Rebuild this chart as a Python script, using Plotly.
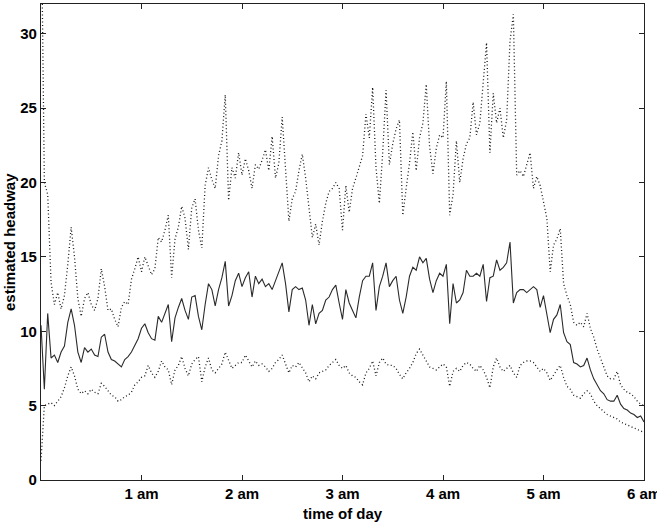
import plotly.graph_objects as go

# time samples (minutes after midnight), every 2 minutes from 0:00 to 6:00
minutes = list(range(0, 361, 2))
hours = [m / 60 for m in minutes]

# middle (solid) estimate of headway
headway_mid = [
    10.4, 6.1, 11.2, 8.2, 8.4, 7.9, 8.6, 9.0, 10.6, 11.5,
    10.4, 8.6, 7.9, 8.9, 8.6, 8.8, 8.4, 8.3, 9.6, 9.8,
    8.6, 8.1, 8.0, 7.8, 7.6, 8.1, 8.3, 8.6, 9.0, 9.5,
    10.2, 10.5, 9.9, 9.5, 9.4, 11.0, 10.6, 11.2, 11.8, 9.3,
    10.9, 11.6, 12.2, 11.4, 10.8, 12.3, 12.4, 11.0, 10.1, 11.8,
    13.2, 12.8, 11.7, 12.8, 13.6, 14.7, 11.7, 12.4, 13.4, 13.9,
    13.0, 13.6, 14.0, 12.3, 13.7, 13.2, 13.5, 13.0, 13.2, 12.8,
    13.4, 14.1, 14.6, 13.2, 11.3, 12.8, 13.0, 12.8, 12.9, 12.1,
    10.4, 11.8, 10.5, 11.2, 11.4, 12.1, 12.3, 12.8, 13.1, 11.9,
    10.8, 12.8, 11.9, 11.4, 10.9, 12.3, 13.4, 13.7, 13.7, 14.6,
    11.4, 13.0, 13.7, 14.6, 13.0, 13.4, 13.7, 12.1, 11.2, 12.3,
    13.7, 14.3, 14.1, 15.0, 14.6, 14.9, 13.5, 12.6, 13.4, 13.9,
    13.7, 14.5, 10.5, 13.2, 11.9, 12.1, 12.6, 14.1, 13.7, 13.7,
    13.9, 13.7, 14.5, 12.0, 13.6, 13.7, 14.8, 14.1, 14.3, 14.6,
    16.0, 11.9, 12.6, 12.8, 12.8, 12.6, 12.8, 13.0, 12.8, 11.6,
    12.4, 11.2, 9.9, 10.8, 11.1, 11.8, 9.9, 9.3, 9.1, 7.9,
    7.8, 7.6, 7.7, 8.2, 7.4, 6.8, 6.4, 6.0, 5.8, 5.4,
    5.3, 5.3, 5.7, 5.1, 4.8, 4.7, 4.5, 4.4, 4.2, 4.3,
    3.9,
]

# upper (dotted) bound
headway_upper = [
    40.0, 20.0, 19.2, 13.3, 11.8, 12.6, 11.5, 12.4, 14.5, 17.0,
    15.0, 12.2, 11.0, 12.2, 12.6, 11.8, 11.4, 12.2, 14.2, 13.0,
    11.4, 11.5, 10.8, 10.3, 11.6, 12.0, 11.8, 13.5, 14.2, 15.0,
    14.0, 15.0, 14.4, 13.8, 14.2, 16.3, 16.0, 16.8, 17.8, 13.6,
    16.2, 17.0, 18.4, 17.6, 15.5, 18.3, 18.9, 16.8, 15.6, 19.8,
    21.0, 20.2, 19.6, 21.8, 22.8, 25.9, 18.8, 21.0, 20.3, 22.0,
    20.5, 21.6, 20.8, 19.6, 21.2, 20.9, 21.5, 22.2, 20.8, 23.1,
    20.3, 21.3, 24.4, 20.6, 17.4, 18.9, 19.4, 20.8, 21.9, 20.3,
    18.2, 16.3, 17.2, 15.8, 17.4, 18.6, 19.4, 19.6, 20.0, 19.6,
    16.8, 19.8, 18.0, 19.6, 20.3, 21.0, 21.8, 24.6, 23.0, 26.4,
    21.0, 18.6, 22.0, 26.2, 21.2, 22.6, 23.6, 24.2, 17.8, 19.6,
    21.3, 23.4, 20.8, 23.0, 24.0, 26.6, 22.4, 20.6, 22.3, 23.2,
    23.0, 26.8, 17.8, 19.2, 22.8, 20.0, 21.6, 22.6, 23.0, 25.4,
    23.2, 24.0, 27.0, 29.4, 22.0, 26.0, 24.0, 25.0, 23.0, 24.2,
    29.5, 31.3, 20.5, 20.8, 20.4, 21.2, 22.0, 19.6, 20.4, 19.8,
    18.6, 17.6, 14.0, 15.8, 16.2, 16.9, 13.2, 12.4, 11.8, 10.6,
    10.4, 10.6, 10.3, 11.2, 10.2, 9.6, 8.8, 8.2, 7.6, 7.0,
    6.8, 6.8, 7.3, 6.4, 6.1, 5.9, 5.8, 5.6, 5.3, 5.1,
    5.0,
]

# lower (dotted) bound
headway_lower = [
    1.3, 5.0, 5.1, 5.2, 5.0, 5.3, 5.6, 6.2, 7.0, 7.6,
    7.0, 6.1, 5.8, 6.0, 5.8, 6.1, 5.9, 5.8, 6.5, 6.3,
    6.0, 5.7, 5.6, 5.3, 5.4, 5.6, 5.7, 5.9, 6.4, 6.6,
    6.9, 7.0, 7.7, 7.2, 6.9, 7.3, 8.0, 7.6, 7.4, 6.4,
    7.4, 7.7, 8.3, 7.5, 7.0, 7.8, 8.1, 8.3, 6.6, 7.6,
    8.2, 7.4, 7.2, 7.5, 7.8, 8.6, 8.0, 7.5, 7.7, 7.9,
    7.9, 8.4, 8.0, 7.6, 8.0, 7.7, 7.8, 7.6, 7.3, 7.5,
    7.9, 8.1, 8.4, 7.8, 7.2, 7.7, 7.6, 7.9, 7.5, 7.2,
    6.6, 7.0, 6.8, 7.2, 7.3, 7.4, 7.7, 7.9, 8.1, 7.7,
    7.5, 7.7, 7.2, 7.0, 6.9, 6.6, 6.4, 7.2, 7.5, 8.0,
    7.0, 7.9, 8.2, 7.8, 7.7, 7.7, 7.5, 7.1, 6.8, 7.2,
    7.5, 7.9, 8.5, 8.8, 8.4, 7.9, 7.6, 7.5, 7.4, 7.6,
    7.8, 7.6, 6.3, 7.3, 7.5, 7.3, 7.7, 7.9, 7.8, 7.5,
    7.3, 7.7, 7.4, 6.9, 6.2, 7.6, 8.2, 7.6, 7.3, 7.5,
    7.7, 7.2, 6.9, 7.7, 7.9, 8.0, 8.0, 7.9, 7.6, 7.3,
    7.5, 7.2, 6.7, 7.1, 7.4, 7.7, 6.9, 6.3, 6.1, 5.7,
    5.6, 5.5, 5.8, 6.0, 5.8, 5.3, 5.0, 4.8, 4.6, 4.4,
    4.3, 4.2, 4.1, 3.9, 3.8, 3.7, 3.6, 3.5, 3.4, 3.3,
    3.2,
]

x_tick_vals = [1, 2, 3, 4, 5, 6]
x_tick_text = ["1 am", "2 am", "3 am", "4 am", "5 am", "6 am"]
y_tick_vals = [0, 5, 10, 15, 20, 25, 30]

FONT = "Liberation Sans, Arial, Helvetica, sans-serif"

fig = go.Figure()
fig.add_trace(go.Scatter(x=hours, y=headway_upper, mode="lines",
                         line=dict(color="#1a1a1a", width=1.3, dash="1px,2.5px"),
                         hoverinfo="skip"))
fig.add_trace(go.Scatter(x=hours, y=headway_lower, mode="lines",
                         line=dict(color="#1a1a1a", width=1.3, dash="1px,2.5px"),
                         hoverinfo="skip"))
fig.add_trace(go.Scatter(x=hours, y=headway_mid, mode="lines",
                         line=dict(color="#2a2a2a", width=1.1),
                         hoverinfo="skip"))

axis_common = dict(
    showline=True, linecolor="#222222", linewidth=1.2, mirror="ticks",
    ticks="inside", ticklen=5, tickwidth=1, tickcolor="#222222",
    showgrid=False, zeroline=False, ticklabeloverflow="allow",
    tickfont=dict(family=FONT, size=15, color="black", weight="bold"),
)

fig.update_xaxes(range=[0, 6], tickvals=x_tick_vals, ticktext=x_tick_text,
                 **axis_common)
fig.update_yaxes(range=[0, 32], tickvals=y_tick_vals, **axis_common)

fig.update_layout(
    width=657, height=523,
    margin=dict(l=41, r=13, t=4, b=43, autoexpand=False),
    plot_bgcolor="white", paper_bgcolor="white",
    showlegend=False,
    annotations=[
        dict(text="time of day", xref="paper", yref="paper", x=0.5, y=-0.0475,
             xanchor="center", yanchor="top", showarrow=False,
             font=dict(family=FONT, size=15, color="black", weight="bold")),
        dict(text="estimated headway", xref="paper", yref="paper", x=-0.053, y=0.5,
             xanchor="center", yanchor="middle", textangle=-90, showarrow=False,
             font=dict(family=FONT, size=15, color="black", weight="bold")),
    ],
)

fig.write_html("out.html")
